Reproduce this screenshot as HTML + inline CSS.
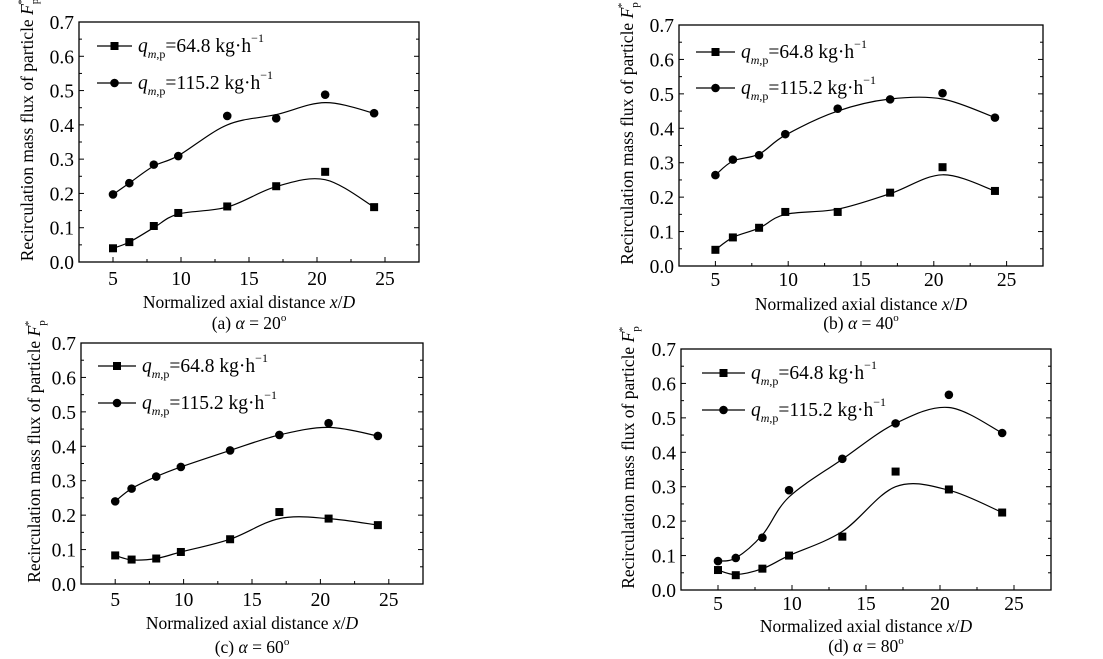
<!DOCTYPE html>
<html><head><meta charset="utf-8">
<style>
html,body{margin:0;padding:0;background:#fff;}
svg{display:block;font-family:"Liberation Serif",serif;}
</style></head>
<body>
<svg id="s" width="1103" height="659" xmlns="http://www.w3.org/2000/svg"></svg>
<script>
const X=[5,6.2,8,9.8,13.4,17,20.6,24.2];
const P=[
 {L:79,R:419,T:22,B:262,tk:285,xl:308,cap:329,yl:28,lx:97,lx2:132,ly1:46,ly2:83,cap_t:"(a) ",ang:"20",
  s:[.04,.058,.105,.143,.162,.221,.263,.160],sc:[.04,.058,.10,.14,.16,.22,.24,.16],
  c:[.197,.23,.284,.309,.426,.419,.488,.434],cc:[.197,.23,.28,.31,.40,.43,.465,.434]},
 {L:679,R:1043,T:25,B:266,tk:286,xl:310,cap:329,yl:628,lx:696,lx2:735,ly1:52,ly2:88,cap_t:"(b) ",ang:"40",
  s:[.047,.083,.111,.157,.157,.213,.287,.218],sc:[.047,.083,.11,.15,.165,.21,.265,.218],
  c:[.264,.309,.322,.383,.457,.484,.502,.431],cc:[.264,.305,.325,.38,.45,.485,.485,.431]},
 {L:81,R:423,T:343,B:584,tk:606,xl:629,cap:653,yl:35,lx:98,lx2:136,ly1:366,ly2:403,cap_t:"(c) ",ang:"60",
  s:[.083,.071,.074,.093,.130,.209,.19,.171],sc:[.083,.07,.074,.093,.13,.19,.19,.171],
  c:[.240,.277,.312,.340,.388,.433,.467,.430],cc:[.24,.277,.312,.34,.388,.433,.455,.43]},
 {L:681,R:1051,T:349,B:590,tk:610,xl:632,cap:652,yl:629,lx:702,lx2:745,ly1:373,ly2:410,cap_t:"(d) ",ang:"80",
  s:[.058,.043,.062,.1,.155,.344,.292,.225],sc:[.058,.045,.062,.1,.17,.30,.29,.225],
  c:[.084,.093,.152,.290,.381,.484,.567,.456],cc:[.084,.093,.16,.27,.38,.484,.53,.456]}
];
let h='';
function crv(pts){
 let d=`M${pts[0][0]},${pts[0][1]}`;
 for(let i=0;i<pts.length-1;i++){
  const p0=pts[Math.max(i-1,0)],p1=pts[i],p2=pts[i+1],p3=pts[Math.min(i+2,pts.length-1)];
  const c1=[p1[0]+(p2[0]-p0[0])/6,p1[1]+(p2[1]-p0[1])/6],c2=[p2[0]-(p3[0]-p1[0])/6,p2[1]-(p3[1]-p1[1])/6];
  d+=`C${c1[0].toFixed(1)},${c1[1].toFixed(1)} ${c2[0].toFixed(1)},${c2[1].toFixed(1)} ${p2[0].toFixed(1)},${p2[1].toFixed(1)}`;
 }
 return `<path d="${d}" fill="none" stroke="#000" stroke-width="1.2"/>`;
}
for(const p of P){
 const fx=x=>p.L+(x-2.5)/25*(p.R-p.L), fy=y=>p.B-y/0.7*(p.B-p.T);
 h+=`<rect x="${p.L}" y="${p.T}" width="${p.R-p.L}" height="${p.B-p.T}" fill="none" stroke="#000" stroke-width="1.3"/>`;
 for(let v=0;v<=0.701;v+=0.05){const y=fy(v),maj=Math.round(v*100)%10==0,l=maj?5:3;
  h+=`<line x1="${p.L}" x2="${p.L+l}" y1="${y}" y2="${y}" stroke="#000"/><line x1="${p.R}" x2="${p.R-l}" y1="${y}" y2="${y}" stroke="#000"/>`;
  if(maj)h+=`<text x="${p.L-5}" y="${y+7}" font-size="19.5" text-anchor="end">${v.toFixed(1)}</text>`;}
 for(let v=5;v<=25;v+=2.5){const x=fx(v),maj=v%5==0,l=maj?5:3;
  h+=`<line x1="${x}" x2="${x}" y1="${p.B}" y2="${p.B-l}" stroke="#000"/>`;
  if(maj)h+=`<text x="${x}" y="${p.tk}" font-size="19.5" text-anchor="middle">${v}</text>`;}
 h+=crv(X.map((x,i)=>[fx(x),fy(p.sc[i])]))+crv(X.map((x,i)=>[fx(x),fy(p.cc[i])]));
 X.forEach((x,i)=>{h+=`<rect x="${fx(x)-4}" y="${fy(p.s[i])-4}" width="8" height="8"/><circle cx="${fx(x)}" cy="${fy(p.c[i])}" r="4.3"/>`;});
 const mx=(p.lx+p.lx2)/2;
 h+=`<line x1="${p.lx}" x2="${p.lx2}" y1="${p.ly1}" y2="${p.ly1}" stroke="#000" stroke-width="1.2"/><rect x="${mx-4}" y="${p.ly1-4}" width="8" height="8"/>`;
 h+=`<line x1="${p.lx}" x2="${p.lx2}" y1="${p.ly2}" y2="${p.ly2}" stroke="#000" stroke-width="1.2"/><circle cx="${mx}" cy="${p.ly2}" r="4.3"/>`;
 const leg=(y,v)=>`<text x="${p.lx2+6}" y="${y+6}" font-size="19.5"><tspan font-style="italic">q</tspan><tspan font-size="12" dy="6"><tspan font-style="italic">m</tspan>,p</tspan><tspan dy="-6">=${v} kg·h</tspan><tspan font-size="12" dy="-10">−1</tspan></text>`;
 h+=leg(p.ly1,"64.8")+leg(p.ly2,"115.2");
 const cx=(p.L+p.R)/2;
 h+=`<text x="${cx}" y="${p.xl}" font-size="17.5" text-anchor="middle">Normalized axial distance <tspan font-style="italic">x</tspan>/<tspan font-style="italic">D</tspan></text>`;
 h+=`<text x="${cx}" y="${p.cap}" font-size="17.5" text-anchor="middle">${p.cap_t}<tspan font-style="italic">α</tspan> = ${p.ang}<tspan font-size="11" dy="-8">o</tspan></text>`;
 const yc=(p.T+p.B)/2-12;
 h+=`<text transform="translate(${p.yl+5},${yc}) rotate(-90)" font-size="17.5" text-anchor="middle">Recirculation mass flux of particle <tspan font-style="italic">F</tspan><tspan font-size="11" dy="5">p</tspan><tspan font-size="11" dy="-13" dx="-6">*</tspan></text>`;
}
document.getElementById('s').innerHTML=h;
</script>
</body></html>
